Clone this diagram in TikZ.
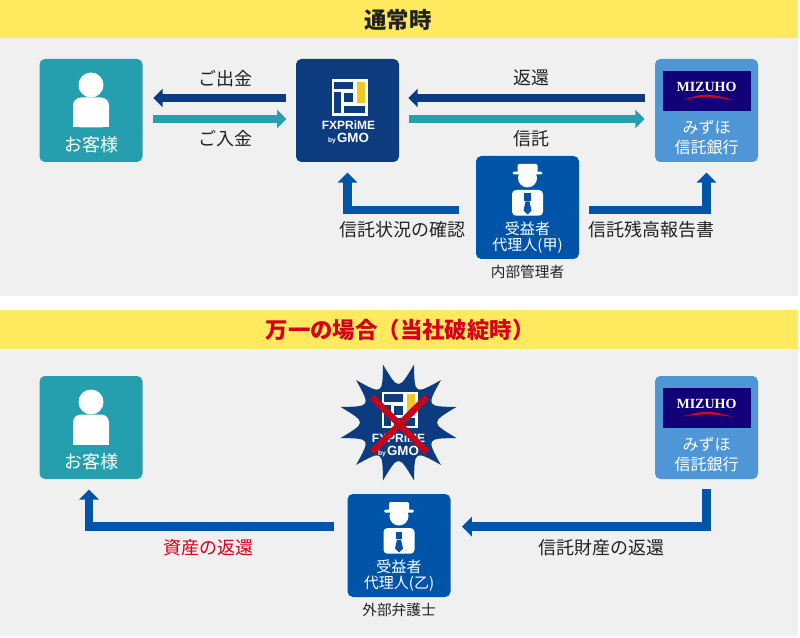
\documentclass[tikz,border=0pt]{standalone}
\usepackage{fontspec}
\setmainfont{Noto Sans CJK JP}
\newfontfamily\latinfont{Liberation Sans}
\newfontfamily\logofont{Liberation Serif}
\usepackage{xcolor}
\usetikzlibrary{shapes,calc}
\usetikzlibrary{positioning}
\usetikzlibrary{arrows.meta}

\definecolor{bandyellow}{HTML}{FFE95F}
\definecolor{bandgray}{HTML}{F0F0F0}
\definecolor{guestteal}{HTML}{259FAE}
\definecolor{fxnavy}{HTML}{0C3B80}
\definecolor{logoyellow}{HTML}{F2C81E}
\definecolor{bankblue}{HTML}{4F96D6}
\definecolor{banknavy}{HTML}{120078}
\definecolor{agentblue}{HTML}{0054A8}
\definecolor{alertred}{HTML}{D6001C}
\definecolor{crossred}{HTML}{C8001E}
\definecolor{inktext}{HTML}{222222}

\tikzset{
	box/.style={rounded corners=4pt,minimum size=77.25pt,inner sep=0pt},
	boxtext/.style={text=white,font=\fontsize{13.5}{13.5}\selectfont,inner sep=0pt},
	banktext/.style={text=white,font=\fontsize{12}{12}\selectfont,inner sep=0pt},
	agenttext/.style={text=white,font=\fontsize{11.3}{11.3}\selectfont,inner sep=0pt},
	lbl/.style={text=inktext,font=\fontsize{13.5}{13.5}\selectfont,inner sep=0pt},
	smalllbl/.style={text=inktext,font=\fontsize{11}{11}\selectfont,inner sep=0pt},
	head/.style={font=\fontsize{16.8}{16.8}\selectfont\bfseries,inner sep=0pt},
	flat/.style={line width=6pt,-{Triangle[length=7pt,width=13.5pt]}},
	elbow/.style={line width=6.4pt,agentblue,-{Triangle[length=7.5pt,width=14.5pt]}},
	pics/person/.style={code={
		\fill[white] (0,-25.5) circle (12.5);
		\fill[white,rounded corners=6pt] (-18,17) -- (-18,-13) -- (18,-13) -- (18,17) -- cycle;
		\fill[white] (-18,8) rectangle (18,17);
	}},
	pics/agent/.style={code={
		\fill[white] (0,-29.5) circle (9.5);
		\fill[white,rounded corners=1pt] (-10,-43.5) rectangle (10,-34);
		\fill[white,rounded corners=1pt] (-15,-35.8) rectangle (15,-33);
		\fill[white,rounded corners=3pt] (-15.5,8.2) -- (-15.5,-17.5) -- (15.5,-17.5) -- (15.5,8.2) -- cycle;
		\fill[agentblue] (-3.3,-14) rectangle (3.3,-6.5);
		\fill[agentblue] (-2,-6) -- (2,-6) -- (4,3) -- (0,7) -- (-4,3) -- cycle;
	}},
	pics/fxlogo/.style={code={
		\fill[white] (-18,-18.3) rectangle (18,18.3);
		\fill[fxnavy] (-15.7,-15.7) rectangle (3.7,-8.3);
		\fill[logoyellow] (7,-15.7) rectangle (15.3,6);
		\fill[fxnavy] (-15.7,-5) rectangle (-8.7,16);
		\fill[fxnavy] (-5.3,-4) rectangle (3,5);
		\fill[fxnavy] (-5.3,8.3) rectangle (15.3,16);
		\node[white,font=\latinfont\bfseries\fontsize{9}{9}\selectfont,inner sep=0pt] (name) at (-1,28) {FXPRiME};
		\node[white,font=\latinfont\bfseries\fontsize{10}{10}\selectfont,inner sep=0pt] (gmo) at (-1,41.5) {\fontsize{5}{5}\selectfont by\,\fontsize{10}{10}\selectfont GMO};
	}},
	pics/bankpart/.style={code={
		\fill[banknavy] (-44,-39.8) rectangle (44,0.2);
		\node[white,font=\logofont\bfseries\fontsize{10.5}{10.5}\selectfont,inner sep=0pt] (logotext) at (0,-23.5) {MIZUHO};
		\fill[alertred] (-24,-11) .. controls (0,-17.5) .. (28,-10.5) .. controls (0,-14) .. cycle;
		\node[banktext] (line1) at (0,16.5) {みずほ};
		\node[banktext] (line2) at (0,36.5) {信託銀行};
	}},
}

\begin{document}
\begin{tikzpicture}[x=0.75pt,y=-0.75pt]
	\useasboundingbox (0,0) rectangle (800,638);
	
	% bands
	\fill[bandyellow] (0,0) rectangle (797.5,38);
	\fill[bandgray] (0,38) rectangle (797.5,296);
	\fill[bandyellow] (0,310) rectangle (797.5,349);
	\fill[bandgray] (0,349) rectangle (797.5,636);
	\node[head,text=inktext] (headnormal) at (398,20) {通常時};
	\node[head,text=alertred] (headcrisis) at (400,330) {万一の場合（当社破綻時）};
	
	% first part boxes
	\node[box,fill=guestteal] (guest) at (91,110.5) {};
	\node[box,fill=fxnavy] (fx) at (347.5,110.5) {};
	\node[box,fill=bankblue] (bank) at (706.5,110.5) {};
	\node[box,fill=agentblue] (agent) at (527.5,207.5) {};
	
	% second part boxes
	\node[box,fill=guestteal] (guesttwo) at (91,427.5) {};
	\node[box,fill=bankblue] (banktwo) at (706.5,427.5) {};
	\node[box,fill=agentblue] (agenttwo) at (399,545.5) {};
	
	% icons and box texts
	\pic at (guest.center) {person};
	\node[boxtext] (guestlbl) at (91,145) {お客様};
	\pic at (guesttwo.center) {person};
	\node[boxtext] (guesttwolbl) at (91,462) {お客様};
	\pic[name prefix=fxa] at (349.5,97.3) {fxlogo};
	\pic[name prefix=banka] at (bank.center) {bankpart};
	\pic[name prefix=bankb] at (banktwo.center) {bankpart};
	\pic at (agent.center) {agent};
	\node[agenttext] (agentlbla) at (527.5,229) {受益者};
	\node[agenttext] (agentlblb) at (527.5,246) {代理人(甲)};
	\node[smalllbl] (agentnote) at (527.5,272) {内部管理者};
	\pic at (agenttwo.center) {agent};
	\node[agenttext] (agenttwolbla) at (399,567) {受益者};
	\node[agenttext] (agenttwolblb) at (399,584) {代理人(乙)};
	\node[smalllbl] (agenttwonote) at (399,610) {外部弁護士};
	
	% broken company
	\coordinate (burst) at (398.5,422.5);
	\fill[fxnavy] ($(burst)+(15:60)$)
		\foreach \a in {45,75,...,375} { .. controls ($(burst)+(\a-15:32)$) .. ($(burst)+(\a:60)$) } -- cycle;
	\pic[name prefix=fxb] at (399.5,410) {fxlogo};
	\draw[crossred,line width=5pt] (372,397) -- (427,452);
	\draw[crossred,line width=5pt] (427,397) -- (372,452);
	
	% connections of fx
	\draw[flat,fxnavy,shorten <=7.5pt,shorten >=7.9pt] ([yshift=9.4pt]fx.west) -- ([yshift=9.4pt]guest.east);
	\draw[flat,guestteal,shorten <=8pt,shorten >=7pt] ([yshift=-6.4pt]guest.east) -- ([yshift=-6.4pt]fx.west);
	\draw[flat,fxnavy,shorten <=7.5pt,shorten >=6.75pt] ([yshift=9.4pt]bank.west) -- ([yshift=9.4pt]fx.east);
	\draw[flat,guestteal,shorten <=7pt,shorten >=7.5pt] ([yshift=-6.4pt]fx.east) -- ([yshift=-6.4pt]bank.west);
	\draw[elbow,shorten <=12.5pt,shorten >=7.7pt] ([yshift=-1.9pt]agent.west) -| (fx.south);
	\draw[elbow,shorten <=7.5pt,shorten >=7.7pt] ([yshift=-1.9pt]agent.east) -| (bank.south);
	
	% connections of second part
	\draw[elbow,shorten <=10pt,shorten >=7.7pt] ([yshift=14.1pt]agenttwo.west) -| ([xshift=-1.5pt]guesttwo.south);
	\draw[elbow,shorten <=7.5pt,shorten >=8.4pt] (banktwo.south) |- ([yshift=14.1pt]agenttwo.east);
	
	% labels
	\node[lbl] (outlbl) at (225,79) {ご出金};
	\node[lbl] (inlbl) at (225,139) {ご入金};
	\node[lbl] (backlbl) at (531,78) {返還};
	\node[lbl] (trustlbl) at (531,139) {信託};
	\node[lbl] (checklbl) at (402,230) {信託状況の確認};
	\node[lbl] (reportlbl) at (651,230) {信託残高報告書};
	\node[lbl,text=alertred] (assetlbl) at (208,548) {資産の返還};
	\node[lbl] (propertylbl) at (601,548) {信託財産の返還};
	
\end{tikzpicture}
\end{document}
